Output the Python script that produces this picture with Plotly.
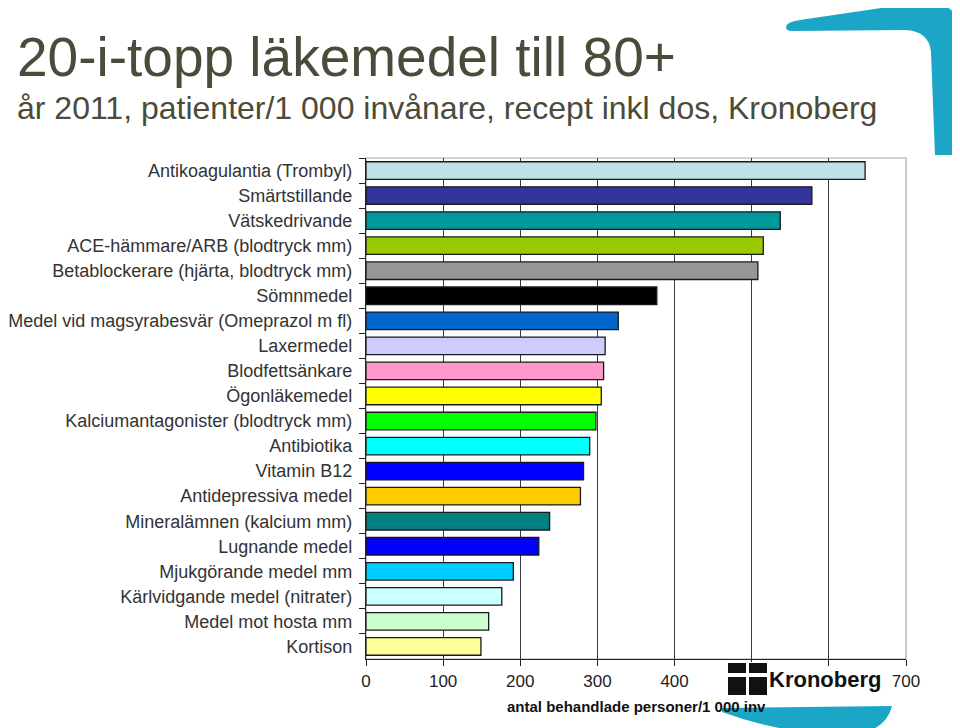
import plotly.graph_objects as go

categories = [
    "Antikoagulantia (Trombyl)",
    "Smärtstillande",
    "Vätskedrivande",
    "ACE-hämmare/ARB (blodtryck mm)",
    "Betablockerare (hjärta, blodtryck mm)",
    "Sömnmedel",
    "Medel vid magsyrabesvär (Omeprazol m fl)",
    "Laxermedel",
    "Blodfettsänkare",
    "Ögonläkemedel",
    "Kalciumantagonister (blodtryck mm)",
    "Antibiotika",
    "Vitamin B12",
    "Antidepressiva medel",
    "Mineralämnen (kalcium mm)",
    "Lugnande medel",
    "Mjukgörande medel mm",
    "Kärlvidgande medel (nitrater)",
    "Medel mot hosta mm",
    "Kortison",
]
values = [647, 578, 537, 515, 508, 377, 327, 310, 308, 305,
          298, 290, 282, 278, 238, 224, 191, 176, 159, 149]
colors = ["#BFE1E8", "#333399", "#009999", "#99CC00", "#969696",
          "#000000", "#0066CC", "#CCCCFF", "#FF99CC", "#FFFF00",
          "#00FF00", "#00FFFF", "#0000FF", "#FFCC00", "#008080",
          "#0000FF", "#00CCFF", "#CCFFFF", "#CCFFCC", "#FFFF99"]
x_ticks = [0, 100, 200, 300, 400, 500, 600, 700]

W, H = 960, 728
OFF = 8  # page body margin
ML, MR, MT, MB = 358, 62, 150, 77
PW, PH = W - ML - MR, H - MT - MB

def px(x):
    return (x - OFF - ML) / PW

def py(y):
    return (H - MB - (y - OFF)) / PH

def path(pts):
    s = ""
    for cmd, coords in pts:
        s += cmd + " " + " ".join(f"{px(a):.4f},{py(b):.4f}" for a, b in coords) + " "
    return s + "Z"

fig = go.Figure(go.Bar(
    y=categories, x=values, orientation="h",
    marker=dict(color=colors, line=dict(color="#1a1a1a", width=1.3)),
    width=0.7,
))

boomerang = path([
    ("M", [(786, 27)]),
    ("Q", [(786, 22), (800, 20)]),
    ("L", [(915, 3)]),
    ("Q", [(962, -3), (962, 40)]),
    ("L", [(961, 155)]),
    ("L", [(935, 155)]),
    ("L", [(931, 52)]),
    ("Q", [(929, 31), (905, 30)]),
    ("L", [(792, 31)]),
    ("Q", [(786, 31), (786, 27)]),
])
swoosh = path([
    ("M", [(722, 708)]),
    ("L", [(892, 706)]),
    ("Q", [(884, 738), (832, 735)]),
    ("Q", [(770, 730), (722, 712)]),
])

shapes = [
    dict(type="rect", xref="paper", yref="paper", x0=0, x1=1, y0=0, y1=1,
         line=dict(color="#a6a6a6", width=1.2), layer="below"),
    dict(type="path", xref="paper", yref="paper", path=boomerang,
         fillcolor="#1BA5C6", line=dict(width=0), layer="above"),
    dict(type="path", xref="paper", yref="paper", path=swoosh,
         fillcolor="#1BA5C6", line=dict(width=0), layer="above"),
]

def box(x0, x1, y0, y1, color):
    return dict(text=" ", xref="paper", yref="paper",
                x=px((x0 + x1) / 2), y=py((y0 + y1) / 2),
                xanchor="center", yanchor="middle", showarrow=False,
                width=x1 - x0, height=y1 - y0, bgcolor=color, borderpad=0,
                borderwidth=0, font=dict(size=1))

annotations = [
    dict(text="20-i-topp läkemedel till 80+", xref="paper", yref="paper",
         x=px(15), y=py(57), xanchor="left", yanchor="middle", showarrow=False,
         font=dict(family="Liberation Sans", size=55, color="#4B4B3A")),
    dict(text="år 2011, patienter/1 000 invånare, recept inkl dos, Kronoberg",
         xref="paper", yref="paper", x=px(15), y=py(108), xanchor="left",
         yanchor="middle", showarrow=False,
         font=dict(family="Liberation Sans", size=32, color="#4B4B3A")),
    dict(text="<b>antal behandlade personer/1 000 inv</b>", xref="paper",
         yref="paper", x=0.5, y=py(706), xanchor="center", yanchor="middle",
         showarrow=False, font=dict(family="Liberation Sans", size=15, color="#111111")),
    box(725, 770, 662, 698, "white"),
    box(728, 746, 663, 673, "#111111"),
    box(749, 767, 663, 673, "#111111"),
    box(728, 746, 677, 695, "#111111"),
    box(749, 767, 677, 695, "#111111"),
    dict(text="<b>Kronoberg</b>", xref="paper", yref="paper", x=px(768),
         y=py(679), xanchor="left", yanchor="middle", showarrow=False,
         bgcolor="white", borderpad=0,
         font=dict(family="Liberation Sans", size=22, color="#111111")),
]

fig.update_layout(
    width=W, height=H, autosize=False,
    margin=dict(l=ML, r=MR, t=MT, b=MB, pad=0),
    paper_bgcolor="white", plot_bgcolor="white",
    showlegend=False, bargap=0.3,
    shapes=shapes, annotations=annotations,
    font=dict(family="Liberation Sans", color="#222222"),
    xaxis=dict(range=[0, 700], tickvals=x_ticks, ticks="outside", ticklen=6,
               tickcolor="#222222", tickwidth=1.2, showgrid=True,
               gridcolor="#3a3a3a", gridwidth=1.2, showline=True,
               linecolor="#222222", linewidth=1.2, zeroline=False,
               automargin=False,
               tickfont=dict(size=17, color="#222222"), fixedrange=True),
    yaxis=dict(autorange="reversed", ticks="outside", tickson="boundaries",
               ticklen=6, tickcolor="#222222", tickwidth=1.2, showline=True,
               linecolor="#222222", linewidth=1.2, showgrid=False,
               ticklabelstandoff=9, automargin=False,
               tickfont=dict(size=18, color="#333333"), fixedrange=True),
)

fig.write_html("out.html")
